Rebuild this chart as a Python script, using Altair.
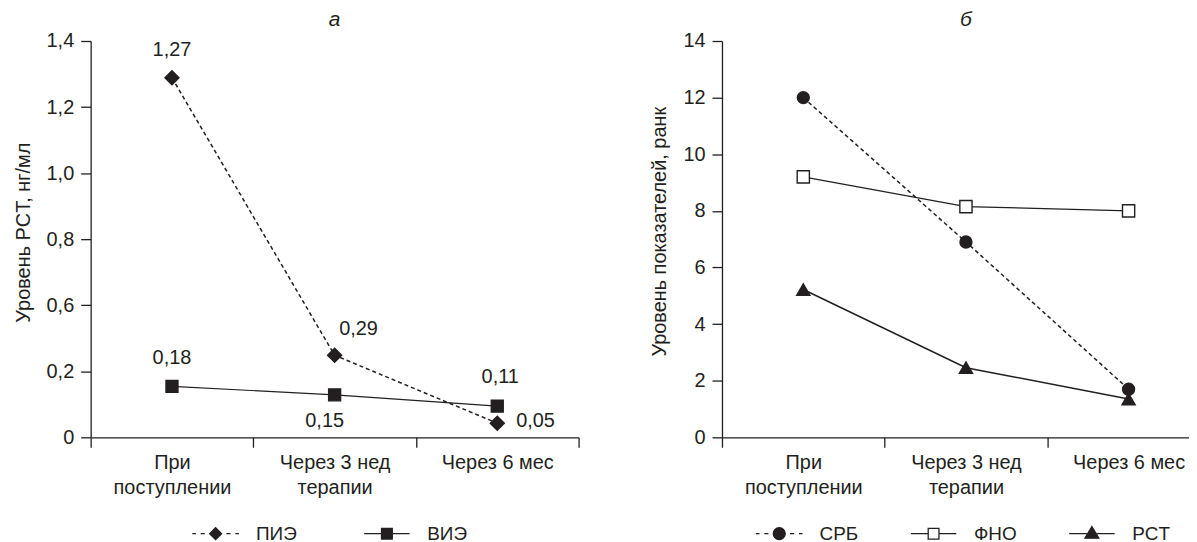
import json
import altair as alt
import pandas as pd

# ---------------- data ----------------
categories = ["При\nпоступлении", "Через 3 нед\nтерапии", "Через 6 мес"]

# panel а
a_title = "а"
a_ytitle = "Уровень PCT, нг/мл"
a_series = ["ПИЭ", "ВИЭ"]
a_pie = [1.27, 0.29, 0.05]
a_vie = [0.18, 0.15, 0.11]
a_ymax = 1.4
a_ytick_labels = ["0", "0,2", "0,6", "0,8", "1,0", "1,2", "1,4"]

# panel б
b_title = "б"
b_ytitle = "Уровень показателей, ранк"
b_series = ["СРБ", "ФНО", "PCT"]
b_srb = [12.0, 6.9, 1.7]
b_fno = [9.2, 8.15, 8.0]
b_pct = [5.22, 2.46, 1.35]
b_ymax = 14
b_yticks = [0, 2, 4, 6, 8, 10, 12, 14]

# ---------------- styles ----------------
INK = "#231f20"
FONT = "Liberation Sans"
FS = 20

STYLE = {
    "ПИЭ": dict(dash=[4, 3], width=1.5, shape="diamond", size=200, fill=INK,
               path="M-3.9,0H-3.3M-2.5,0H-1.8M0,-1L1,0L0,1L-1,0ZM1.8,0H2.5M3.3,0H3.9"),
    "ВИЭ": dict(dash=None, width=1.2, shape="square", size=144, fill=INK,
               path="M-3.8,0H3.8M-0.9,-0.9H0.9V0.9H-0.9Z"),
    "СРБ": dict(dash=[4, 3], width=1.5, shape="circle", size=144, fill=INK,
               path="M-3.9,0H-3.3M-2.5,0H-1.8M-1,0A1,1 0 1,0 1,0A1,1 0 1,0 -1,0ZM1.8,0H2.5M3.3,0H3.9"),
    "ФНО": dict(dash=None, width=1.2, shape="square", size=150, fill="white",
               path="M-3.8,0H-0.9M0.9,0H3.8M-0.9,-0.9H0.9V0.9H-0.9Z"),
    "PCT": dict(dash=None, width=1.5, shape="triangle-up", size=175, fill=INK,
               path="M-3.8,0H3.8M0,-1.2L1.15,0.75L-1.15,0.75Z"),
}

# data label placement (align, dx, dy) for panel а
LABEL_POS = {
    ("ПИЭ", 0): ("center", 0, -28),
    ("ПИЭ", 1): ("center", 24, -26),
    ("ПИЭ", 2): ("left", 19, -2),
    ("ВИЭ", 0): ("center", 0, -28),
    ("ВИЭ", 1): ("center", -10, 26),
    ("ВИЭ", 2): ("center", 3, -29),
}


def make_df(series, columns):
    rows = []
    for s, vals in zip(series, columns):
        for i, v in enumerate(vals):
            rows.append({"series": s, "idx": i, "value": v,
                         "label": f"{v:.2f}".replace(".", ",")})
    return pd.DataFrame(rows)


df_a = make_df(a_series, [a_pie, a_vie])
df_b = make_df(b_series, [b_srb, b_fno, b_pct])

CAT_LINES = json.dumps([c.split("\n") for c in categories], ensure_ascii=False)


def panel(df, series, ymax, yaxis, title, title_dx, width, height, xmax,
          legend_x, legend_y, col_pad, labels=False):
    ticks = [k / 2 for k in range(-1, int(2 * xmax + 1e-9) + 1)]
    xaxis = alt.Axis(
        values=ticks, title=None, grid=False,
        labelExpr=f"datum.value % 1 === 0 ? {CAT_LINES}[datum.value] : ''",
        tickOpacity={"condition": {"test": "datum.value % 1 !== 0", "value": 1}, "value": 0},
        tickSize=10, labelPadding=5, labelLineHeight=25,
        labelFlush=False, labelOverlap=False, labelBound=False,
        labelAlign="center", labelBaseline="top",
    )
    x = alt.X("idx:Q", scale=alt.Scale(domain=[-0.5, xmax], nice=False, zero=False), axis=xaxis)
    y = alt.Y("value:Q", scale=alt.Scale(domain=[0, ymax], nice=False, zero=True), axis=yaxis)

    base = alt.Chart(df)
    layers = []
    for s in series:
        st = STYLE[s]
        sub = base.transform_filter(alt.datum.series == s)
        lk = dict(color=INK, strokeWidth=st["width"])
        if st["dash"]:
            lk["strokeDash"] = st["dash"]
        layers.append(sub.mark_line(**lk).encode(x=x, y=y))
        layers.append(sub.mark_point(shape=st["shape"], size=st["size"], filled=True,
                                     fill=st["fill"], stroke=INK, strokeWidth=1.4,
                                     opacity=1).encode(x=x, y=y))
    if labels:
        for (s, i), (align, dx, dy) in LABEL_POS.items():
            sub = base.transform_filter((alt.datum.series == s) & (alt.datum.idx == i))
            layers.append(sub.mark_text(align=align, baseline="middle", dx=dx, dy=dy,
                                        font=FONT, fontSize=FS, color=INK)
                          .encode(x=x, y=y, text="label:N"))
    # legend-only layer (no marks drawn)
    leg = alt.Legend(title=None, orient="none", legendX=legend_x, legendY=legend_y,
                     direction="horizontal", columns=len(series), symbolSize=144,
                     symbolStrokeWidth=1.3, symbolOpacity=1, labelOffset=31,
                     columnPadding=col_pad, labelFont=FONT, labelFontSize=19,
                     labelColor=INK, padding=0)
    layers.append(
        base.transform_filter("false").mark_point(filled=True, strokeWidth=1.3, opacity=1).encode(
            x=x, y=y,
            shape=alt.Shape("series:N", scale=alt.Scale(domain=series,
                                                         range=[STYLE[s]["path"] for s in series]),
                            legend=leg),
            fill=alt.Fill("series:N", scale=alt.Scale(domain=series,
                                                       range=[STYLE[s]["fill"] for s in series])),
            stroke=alt.Stroke("series:N", scale=alt.Scale(domain=series,
                                                           range=[INK for s in series])),
        )
    )
    return alt.layer(*layers).properties(
        width=width, height=height,
        title=alt.TitleParams(title, font=FONT, fontSize=21, fontStyle="italic",
                              fontWeight="normal", color=INK, anchor="middle",
                              offset=1, dx=title_dx),
    )


W_A = 490
W_B = 469
H = 398
UNIT = W_A / 3.0
xmax_b = -0.5 + W_B / UNIT

yaxis_a = alt.Axis(
    title=a_ytitle,
    values=[k * a_ymax / (len(a_ytick_labels) - 1) for k in range(len(a_ytick_labels))],
    labelExpr=f"{json.dumps(a_ytick_labels)}[round(datum.value * {len(a_ytick_labels) - 1} / {a_ymax})]",
    grid=False, tickSize=10, labelPadding=7, titlePadding=13, titleY=H / 2 - 7,
)
yaxis_b = alt.Axis(title=b_ytitle, values=b_yticks, grid=False, tickSize=10,
                   labelPadding=7, titlePadding=13, titleY=H / 2 - 8)

left = panel(df_a, a_series, a_ymax, yaxis_a, a_title, 0, W_A, H, 2.5,
             legend_x=116, legend_y=485, col_pad=65, labels=True)
right = panel(df_b, b_series, b_ymax, yaxis_b, b_title, (1.0 + 0.5) * UNIT - W_B / 2, W_B, H, xmax_b,
              legend_x=48, legend_y=485, col_pad=50)

chart = alt.hconcat(left, right, spacing=70).resolve_scale(
    x="independent", y="independent", shape="independent", fill="independent", stroke="independent"
).properties(padding={"left": 5, "top": 0, "right": 0, "bottom": 0}).configure_view(
    stroke=None
).configure_axis(
    domainColor=INK, tickColor=INK, domainWidth=1.3, tickWidth=1.3,
    labelFont=FONT, labelFontSize=FS, labelColor=INK,
    titleFont=FONT, titleFontSize=FS, titleFontWeight="normal", titleColor=INK,
)

chart.save("out.html", embed_options={"renderer": "svg", "actions": False})
